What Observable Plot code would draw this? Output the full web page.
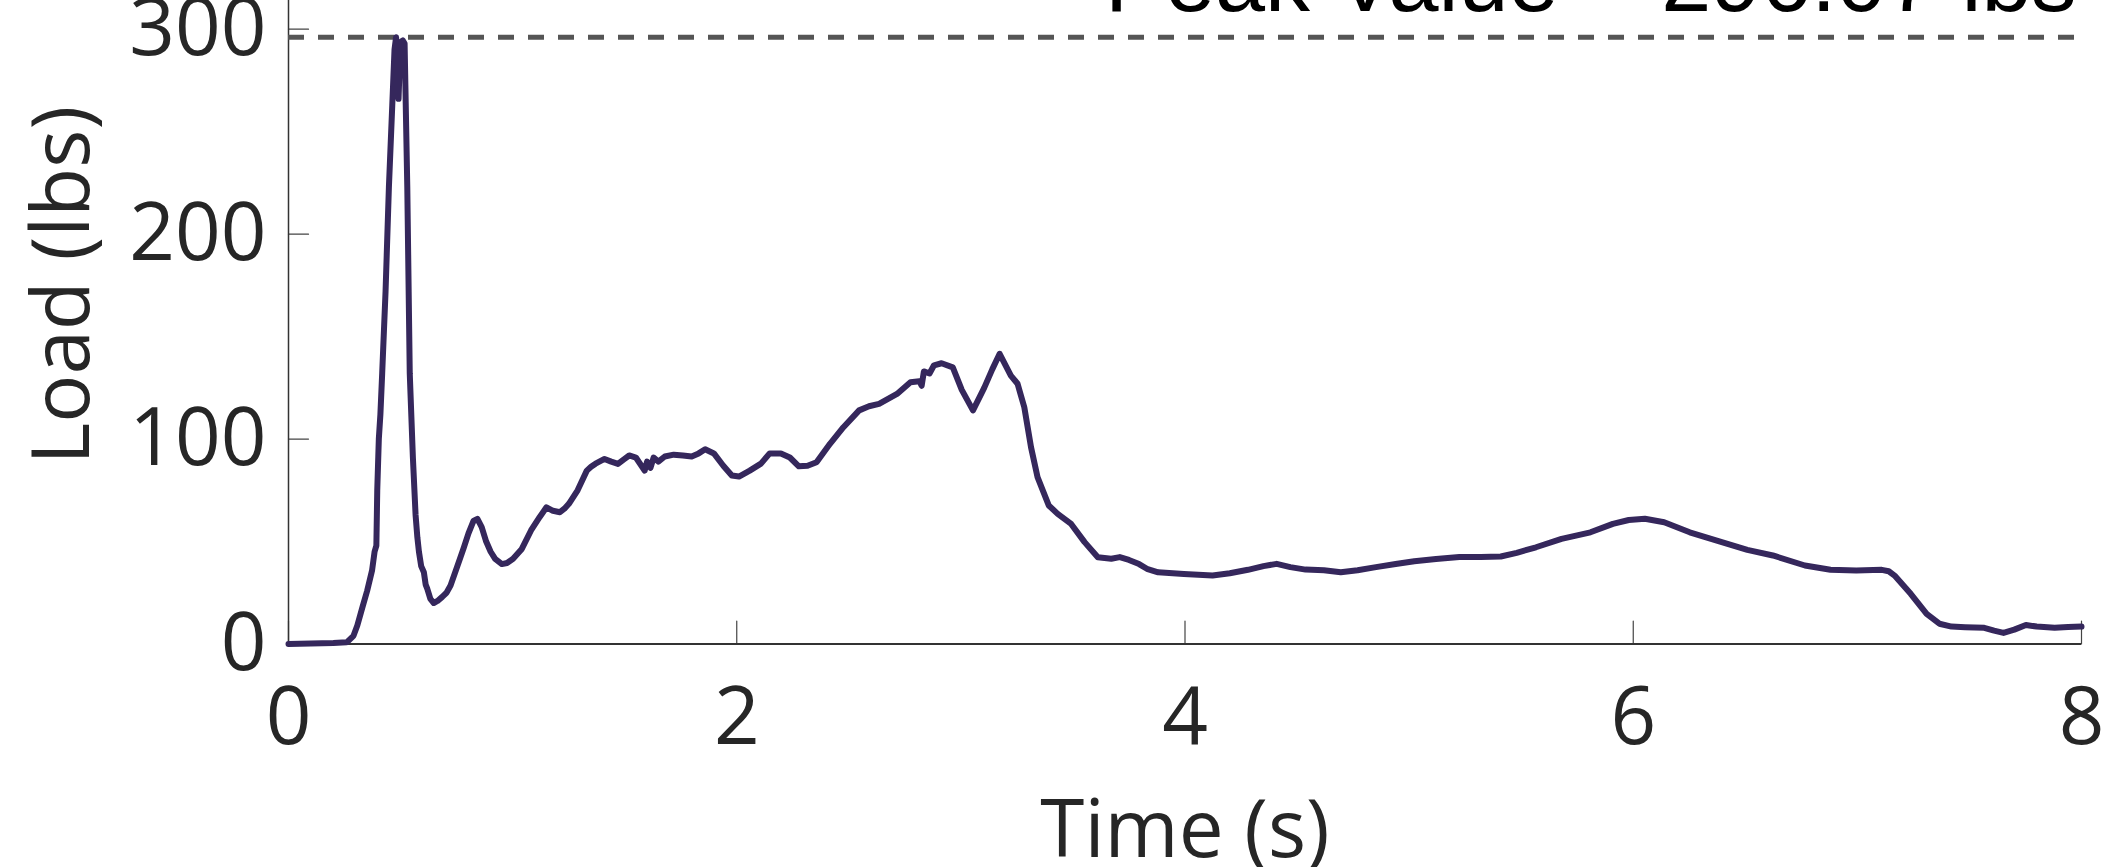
<!DOCTYPE html>
<html>
<head>
<meta charset="utf-8">
<script src="https://cdn.jsdelivr.net/npm/d3@7"></script>
<script src="https://cdn.jsdelivr.net/npm/@observablehq/plot@0.6"></script>
<style>
  html, body { margin: 0; padding: 0; background: white; overflow: hidden; }
  #chart svg { display: block; }
</style>
</head>
<body>
<div id="chart"></div>
<script>
// ---- data ----
const time = [
  0, 0.10, 0.20, 0.26, 0.29, 0.307, 0.33, 0.351, 0.373, 0.384, 0.392, 0.396, 0.403, 0.410, 0.418,
  0.433, 0.448, 0.463, 0.473, 0.480, 0.486, 0.491, 0.497, 0.503, 0.510, 0.518, 0.530, 0.541, 0.555,
  0.567, 0.575, 0.582, 0.592, 0.604, 0.612, 0.619, 0.633, 0.648, 0.665, 0.686, 0.705, 0.723, 0.763,
  0.782, 0.803, 0.825, 0.843, 0.862, 0.882, 0.902, 0.922, 0.952, 0.975, 1.002, 1.041, 1.082, 1.121,
  1.151, 1.18, 1.211, 1.231, 1.251, 1.29, 1.331, 1.35, 1.370, 1.410, 1.44, 1.470, 1.495, 1.52, 1.55,
  1.589, 1.60, 1.615, 1.629, 1.65, 1.679, 1.719, 1.76, 1.799, 1.83, 1.859, 1.898, 1.94, 1.978, 2.01,
  2.058, 2.108, 2.147, 2.197, 2.237, 2.277, 2.316, 2.356, 2.416, 2.476, 2.546, 2.59, 2.635, 2.715,
  2.775, 2.815, 2.825, 2.835, 2.86, 2.88, 2.914, 2.964, 3.004, 3.054, 3.104, 3.14, 3.173, 3.223,
  3.253, 3.283, 3.313, 3.342, 3.392, 3.432, 3.492, 3.552, 3.611, 3.671, 3.709, 3.75, 3.795, 3.830,
  3.880, 3.995, 4.123, 4.2, 4.281, 4.35, 4.409, 4.47, 4.538, 4.62, 4.695, 4.77, 4.852, 4.94, 5.023,
  5.12, 5.224, 5.32, 5.409, 5.48, 5.566, 5.680, 5.809, 5.909, 5.98, 6.052, 6.138, 6.252, 6.395,
  6.509, 6.623, 6.766, 6.880, 6.995, 7.109, 7.14, 7.166, 7.238, 7.309, 7.366, 7.42, 7.481, 7.566,
  7.61, 7.652, 7.70, 7.752, 7.80, 7.880, 7.94, 8.0
];
const load = [
  0, 0.3, 0.5, 0.8, 4, 9, 18, 26, 36, 45, 48, 75, 100, 112, 132,
  172, 223, 263, 290, 296.07, 284, 266, 286, 294, 294.5, 293, 223, 132, 91,
  63, 52, 45, 38, 35, 29, 27, 22, 20, 21, 23, 25, 28.5, 41,
  47, 54, 60, 61, 57, 50, 45, 41.5, 39, 39.5, 41.6, 46.4, 55.4, 62,
  66.7, 65, 64.3, 66, 68.4, 75, 84.6, 86.5, 88, 90.3, 89, 87.9, 90, 92, 91,
  84.6, 89, 86, 91, 89, 91.5, 92.4, 92, 91.5, 93, 95, 93, 87, 82.2, 81.7,
  84.6, 88, 93, 93, 91, 86.7, 87, 88.7, 97.7, 105.8, 114, 116, 117.2, 122,
  127.7, 128.2, 126, 133, 132, 136, 137, 135, 124, 114, 125, 134, 141.6, 131,
  127, 115.5, 96, 81.4, 67.6, 63.5, 58.6, 49.7, 42.3, 41.6, 42.4, 41, 39, 36.7,
  35, 34.2, 33.4, 34.5, 36.2, 38, 39.1, 37.5, 36.3, 36, 35, 36, 37.5, 39, 40.4,
  41.5, 42.4, 42.5, 42.7, 44.5, 47.2, 51.3, 54.5, 58.6, 60.5, 61.1, 59.4, 54.5, 49.7,
  45.9, 43.2, 38.3, 36.2, 35.9, 36.2, 35.5, 33.4, 24.5, 14.7, 9.9, 8.5, 8.2, 7.9,
  6.5, 5.4, 7, 9.3, 8.5, 7.9, 8.3, 8.5
];
const xTicks = [0, 2, 4, 6, 8];
const yTicks = [0, 100, 200, 300];
const peakValue = 296.07;
const peakLabel = "Peak Value = 296.07 lbs";
const xLabel = "Time (s)";
const yLabel = "Load (lbs)";

const series = time.map((t, i) => ({t, v: load[i]}));
const tickShape = {draw(context, l) { context.moveTo(0, 0); context.lineTo(0, -l); }};
const axisColor = "#262626";
const fmt = d => String(d);

const chart = Plot.plot({
  width: 2104,
  height: 867,
  marginLeft: 288,
  marginRight: 23,
  marginTop: 0,
  marginBottom: 223.5,
  style: {fontFamily: "'Open Sans', sans-serif", color: axisColor, background: "white"},
  x: {domain: [0, 8]},
  y: {domain: [0, 314]},
  marks: [
    Plot.axisX(xTicks, {tickSize: 0, tickPadding: 43, fontSize: 80, label: null, fill: axisColor, tickFormat: fmt}),
    Plot.axisY(yTicks, {tickSize: 0, tickPadding: 22, fontSize: 80, label: null, fill: axisColor, tickFormat: fmt}),
    Plot.vector(xTicks, {x: d => d, y: 0, length: 23, rotate: 0, anchor: "start", shape: tickShape, stroke: "#444", strokeWidth: 1.2}),
    Plot.vector(yTicks, {x: 0, y: d => d, length: 20, rotate: 90, anchor: "start", shape: tickShape, stroke: "#444", strokeWidth: 1.2}),
    Plot.ruleY([0], {stroke: "#333", strokeWidth: 2}),
    Plot.ruleX([0], {stroke: "#333", strokeWidth: 1.5}),
    Plot.ruleY([peakValue], {stroke: "#555", strokeWidth: 5, strokeDasharray: "16,14"}),
    Plot.line(series, {x: "t", y: "v", stroke: "#35275c", strokeWidth: 6, strokeLinejoin: "round"}),
    Plot.text([peakLabel], {frameAnchor: "top-right", textAnchor: "end", lineAnchor: "top", dx: -5, dy: -53, fontSize: 90, fontFamily: "'Liberation Sans', Arial, sans-serif", fill: "black"}),
    Plot.text([xLabel], {frameAnchor: "bottom", lineAnchor: "top", dy: 156, fontSize: 80, fill: axisColor}),
    Plot.text([yLabel], {frameAnchor: "left", rotate: -90, textAnchor: "middle", lineAnchor: "middle", dx: -225, dy: -37, fontSize: 80, fill: axisColor})
  ]
});
document.getElementById("chart").appendChild(chart);
</script>
</body>
</html>
